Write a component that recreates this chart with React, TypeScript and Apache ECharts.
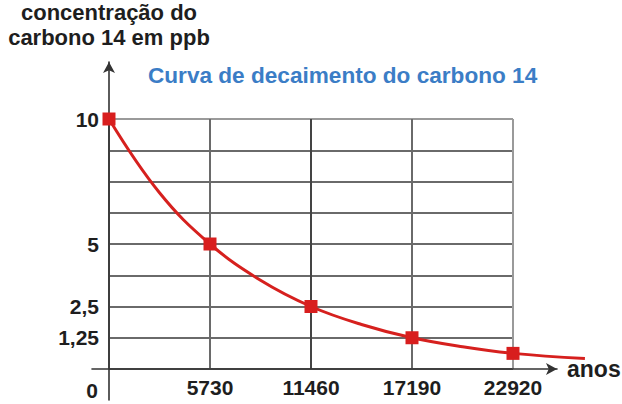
import React, { useEffect, useRef } from "react";
import * as echarts from "echarts";

const anos = [0, 2865, 5730, 8595, 11460, 14325, 17190, 20055, 22920, 27000];
const concentracao = [10, 7.05, 5, 3.55, 2.5, 1.78, 1.25, 0.89, 0.625, 0.42];
const marcado = [true, false, true, false, true, false, true, false, true, false];
const xMaxGrade = 22920;
const xMaxCurva = 27000;
const xTickValues = [5730, 11460, 17190, 22920];
const yTickValues = [1.25, 2.5, 5, 10];
const yTickLabels = ["1,25", "2,5", "5", "10"];
const tituloEixoY = ["concentração do", "carbono 14 em ppb"];
const tituloGrafico = "Curva de decaimento do carbono 14";
const rotuloEixoX = "anos";
const rotuloOrigem = "0";

const FONT = "'Liberation Sans', Arial, Helvetica, sans-serif";
const TXT = "#1e1e1e";

const GL = 109;
const GW = 404;
const GT = 119;
const GB = 35;

export default function App() {
  const ref = useRef<HTMLDivElement>(null);
  useEffect(() => {
    if (!ref.current) return;
    const chart = echarts.init(ref.current, null, { renderer: "svg" });
    const curveWidth = (GW * xMaxCurva) / xMaxGrade;
    const hiddenAxis = {
      axisLine: { show: false },
      axisTick: { show: false },
      axisLabel: { show: false },
      splitLine: { show: false },
    };
    const option: any = {
      animation: false,
      backgroundColor: "#ffffff",
      grid: [
        { left: GL, width: GW, top: GT, bottom: GB },
        { left: 92, right: 65, top: 62, bottom: 4 },
        { left: GL, width: curveWidth, top: GT, bottom: GB },
      ],
      xAxis: [
        {
          type: "value",
          gridIndex: 0,
          min: 0,
          max: xMaxGrade,
          interval: 5730,
          axisLine: { show: false },
          axisTick: { show: false },
          axisLabel: {
            margin: 8,
            fontFamily: FONT,
            fontSize: 21,
            fontWeight: "bold",
            color: TXT,
            formatter: (v: number) => (xTickValues.includes(v) ? String(v) : ""),
          },
          splitLine: {
            show: true,
            lineStyle: {
              color: ["#6a6a6a", "#6a6a6a", "#444444", "#6a6a6a", "#9a9a9a"],
              width: 2,
            },
          },
        },
        {
          type: "value",
          gridIndex: 1,
          min: -17,
          max: 448,
          axisLine: {
            show: true,
            onZero: true,
            symbol: ["none", "arrow"],
            symbolSize: [9, 11],
            lineStyle: { color: "#333333", width: 1.6 },
          },
          axisTick: { show: false },
          axisLabel: { show: false },
          splitLine: { show: false },
        },
        {
          type: "value",
          gridIndex: 2,
          min: 0,
          max: xMaxCurva,
          ...hiddenAxis,
        },
      ],
      yAxis: [
        {
          type: "value",
          gridIndex: 0,
          min: 0,
          max: 10,
          interval: 1.25,
          axisLine: { show: false },
          axisTick: { show: false },
          axisLabel: {
            margin: 10,
            fontFamily: FONT,
            fontSize: 21,
            fontWeight: "bold",
            color: TXT,
            formatter: (v: number) => {
              const i = yTickValues.indexOf(v);
              return i >= 0 ? yTickLabels[i] : "";
            },
          },
          splitLine: {
            show: true,
            lineStyle: {
              color: [
                "#6a6a6a",
                "#6a6a6a",
                "#6a6a6a",
                "#6a6a6a",
                "#6a6a6a",
                "#6a6a6a",
                "#6a6a6a",
                "#6a6a6a",
                "#9a9a9a",
              ],
              width: 2,
            },
          },
        },
        {
          type: "value",
          gridIndex: 1,
          min: -31,
          max: 307,
          axisLine: {
            show: true,
            onZero: true,
            symbol: ["none", "arrow"],
            symbolSize: [9, 11],
            lineStyle: { color: "#333333", width: 1.6 },
          },
          axisTick: { show: false },
          axisLabel: { show: false },
          splitLine: { show: false },
        },
        {
          type: "value",
          gridIndex: 2,
          min: 0,
          max: 10,
          ...hiddenAxis,
        },
      ],
      series: [
        {
          type: "line",
          xAxisIndex: 2,
          yAxisIndex: 2,
          clip: false,
          smooth: 0.4,
          data: anos.map((x, i) => ({
            value: [x, concentracao[i]],
            symbol: marcado[i] ? "rect" : "none",
          })),
          symbolSize: 13,
          lineStyle: { color: "#d6201e", width: 3 },
          itemStyle: { color: "#d81e1e" },
          z: 5,
        },
      ],
      graphic: [
        {
          type: "text",
          x: 109,
          y: 12,
          style: {
            text: tituloEixoY[0],
            fontFamily: FONT,
            fontSize: 22,
            fontWeight: "bold",
            fill: TXT,
            align: "center",
            verticalAlign: "middle",
          },
        },
        {
          type: "text",
          x: 109,
          y: 37,
          style: {
            text: tituloEixoY[1],
            fontFamily: FONT,
            fontSize: 22,
            fontWeight: "bold",
            fill: TXT,
            align: "center",
            verticalAlign: "middle",
          },
        },
        {
          type: "text",
          x: 148,
          y: 75,
          style: {
            text: tituloGrafico,
            fontFamily: FONT,
            fontSize: 22.6,
            fontWeight: "bold",
            fill: "#3b7dc6",
            align: "left",
            verticalAlign: "middle",
          },
        },
        {
          type: "text",
          x: 567,
          y: 369,
          style: {
            text: rotuloEixoX,
            fontFamily: FONT,
            fontSize: 23,
            fontWeight: "bold",
            fill: TXT,
            align: "left",
            verticalAlign: "middle",
          },
        },
        {
          type: "text",
          x: 92,
          y: 390,
          style: {
            text: rotuloOrigem,
            fontFamily: FONT,
            fontSize: 21,
            fontWeight: "bold",
            fill: TXT,
            align: "center",
            verticalAlign: "middle",
          },
        },
      ],
    };
    chart.setOption(option);
    return () => chart.dispose();
  }, []);
  return (
    <div
      ref={ref}
      style={{ position: "fixed", left: 0, top: 0, width: 622, height: 404 }}
    />
  );
}
